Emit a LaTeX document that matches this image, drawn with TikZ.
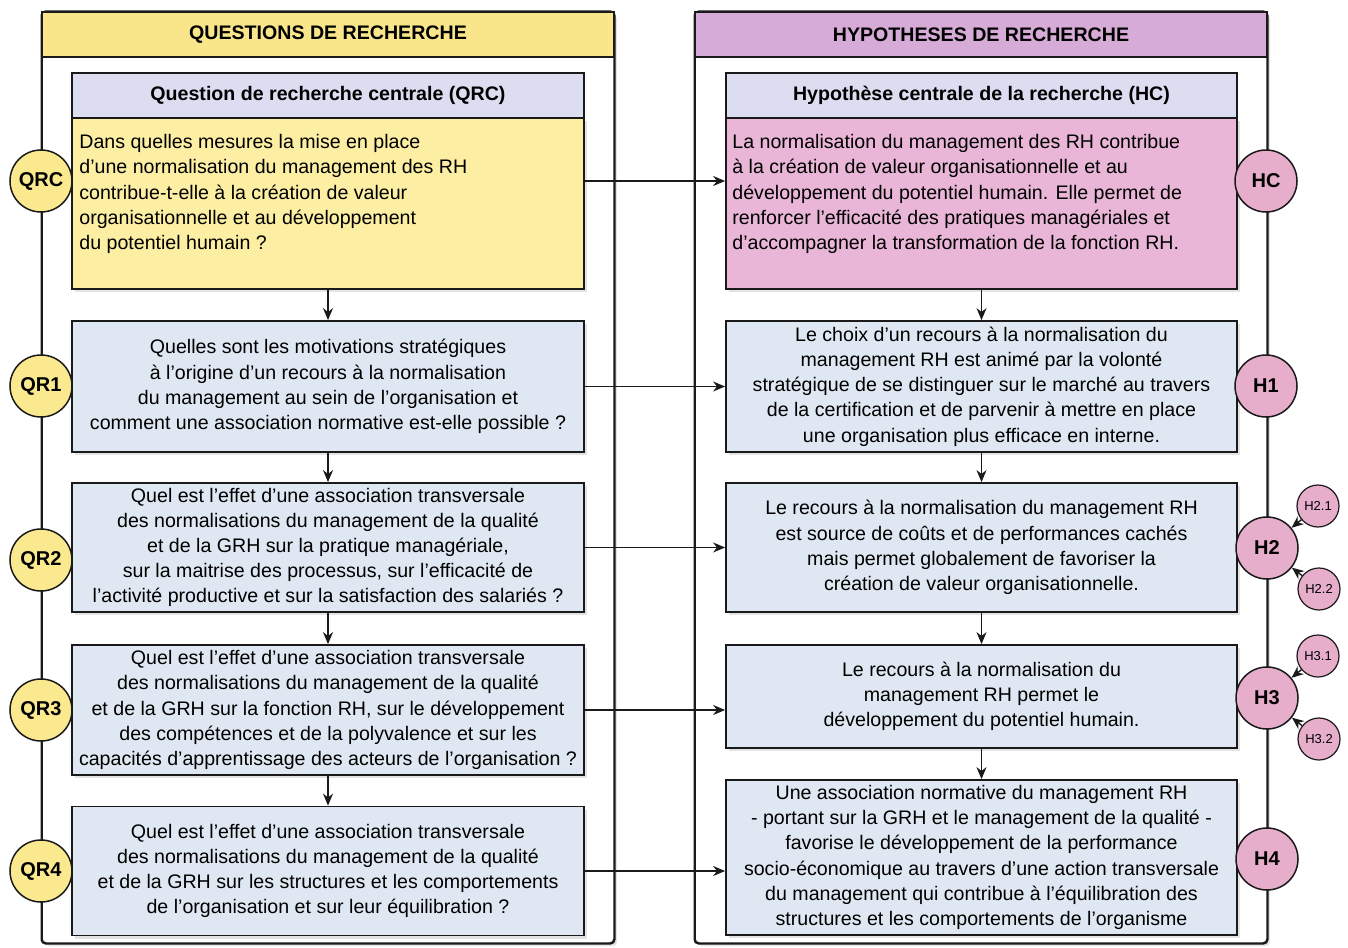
\documentclass[tikz,border=0pt]{standalone}
\usepackage{fontspec}
\setmainfont{Liberation Sans}
\usetikzlibrary{arrows.meta,calc,shadows}
\definecolor{hdrY}{HTML}{F9E68A}
\definecolor{hdrP}{HTML}{D7ABD8}
\definecolor{lav}{HTML}{DDDDF1}
\definecolor{bodyY}{HTML}{FCEFA3}
\definecolor{bodyP}{HTML}{E9B6D7}
\definecolor{boxB}{HTML}{DFE8F2}
\definecolor{circY}{HTML}{FAE98F}
\definecolor{circP}{HTML}{E6AECB}
\definecolor{lineC}{HTML}{1A1A1A}
\begin{document}
\begin{tikzpicture}[x=0.5pt,y=-0.5pt,
  font=\fontsize{9.8pt}{12.6pt}\selectfont,
  shd/.style={drop shadow={opacity=0.22,shadow xshift=1.5pt,shadow yshift=-1.5pt}},
  panel/.style={draw=lineC, line width=0.75pt, rounded corners=2pt, fill=white, shd, minimum width=286pt, minimum height=465.5pt, inner sep=0pt},
  phead/.style={draw=lineC, line width=0.75pt, minimum width=286pt, minimum height=22.5pt, inner sep=0pt, font=\fontsize{9.8pt}{12pt}\selectfont\bfseries},
  bhead/.style={draw=lineC, line width=0.9pt, fill=lav, minimum height=22.5pt, inner sep=0pt, font=\fontsize{9.8pt}{12pt}\selectfont\bfseries},
  box/.style={draw=lineC, line width=0.9pt, rectangle, inner sep=0pt, shd, align=center},
  circ/.style={circle, draw=lineC, line width=0.75pt, minimum size=31pt, inner sep=0pt, font=\fontsize{10pt}{12pt}\selectfont\bfseries},
  scirc/.style={circle, draw=lineC, line width=0.6pt, fill=circP, minimum size=21pt, inner sep=0pt, font=\fontsize{6.5pt}{7pt}\selectfont},
  arr/.style={draw=lineC, line width=0.7pt, -{Stealth[length=6pt,width=5pt]}},
]
\useasboundingbox (0,0) rectangle (1348,947);
% panels
\node[panel] (lp) at (328,477.5) {};
\node[panel] (rp) at (981,477.5) {};
\node[phead, fill=hdrY] (lph) at (328,34.5) {QUESTIONS DE RECHERCHE};
\node[phead, fill=hdrP] (rph) at (981,34.5) {HYPOTHESES DE RECHERCHE};
\draw[lineC, line width=0.75pt, rounded corners=2pt] (lp.north west) rectangle (lp.south east);
\draw[lineC, line width=0.75pt, rounded corners=2pt] (rp.north west) rectangle (rp.south east);

% central boxes
\node[box, fill=bodyY, minimum width=256pt, minimum height=85.5pt] (qrc) at (328,203.5) {};
\node[bhead, minimum width=256pt] (qrch) at (328,95.5) {Question de recherche centrale (QRC)};
\node[anchor=north west, align=left, inner sep=0pt] (qrct) at (79,134)
 {Dans quelles mesures la mise en place\\
  d’une normalisation du management des RH\\
  contribue-t-elle à la création de valeur\\
  organisationnelle et au développement\\
  du potentiel humain ?};

\node[box, fill=bodyP, minimum width=255.5pt, minimum height=85.5pt] (hc) at (981.5,203.5) {};
\node[bhead, minimum width=255.5pt] (hch) at (981.5,95.5) {Hypothèse centrale de la recherche (HC)};
\node[anchor=north west, align=left, inner sep=0pt] (hct) at (732,134)
 {La normalisation du management des RH contribue\\
  à la création de valeur organisationnelle et au\\
  développement du potentiel humain. Elle permet de\\
  renforcer l’efficacité des pratiques managériales et\\
  d’accompagner la transformation de la fonction RH.};

% question boxes
\node[box, fill=boxB, minimum width=256pt, minimum height=65.5pt] (qr1) at (328,386.5)
 {Quelles sont les motivations stratégiques\\
  à l’origine d’un recours à la normalisation\\
  du management au sein de l’organisation et\\
  comment une association normative est-elle possible ?};
\node[box, fill=boxB, minimum width=256pt, minimum height=64.5pt] (qr2) at (328,547.5)
 {Quel est l’effet d’une association transversale\\
  des normalisations du management de la qualité\\
  et de la GRH sur la pratique managériale,\\
  sur la maitrise des processus, sur l’efficacité de\\
  l’activité productive et sur la satisfaction des salariés ?};
\node[box, fill=boxB, minimum width=256pt, minimum height=65pt] (qr3) at (328,710)
 {Quel est l’effet d’une association transversale\\
  des normalisations du management de la qualité\\
  et de la GRH sur la fonction RH, sur le développement\\
  des compétences et de la polyvalence et sur les\\
  capacités d’apprentissage des acteurs de l’organisation ?};
\node[box, fill=boxB, minimum width=256pt, minimum height=64.5pt] (qr4) at (328,871)
 {Quel est l’effet d’une association transversale\\
  des normalisations du management de la qualité\\
  et de la GRH sur les structures et les comportements\\
  de l’organisation et sur leur équilibration ?};

% hypothesis boxes
\node[box, fill=boxB, minimum width=255.5pt, minimum height=65.5pt] (h1) at (981.5,386.5)
 {Le choix d’un recours à la normalisation du\\
  management RH est animé par la volonté\\
  stratégique de se distinguer sur le marché au travers\\
  de la certification et de parvenir à mettre en place\\
  une organisation plus efficace en interne.};
\node[box, fill=boxB, minimum width=255.5pt, minimum height=64.5pt] (h2) at (981.5,547.5)
 {Le recours à la normalisation du management RH\\
  est source de coûts et de performances cachés\\
  mais permet globalement de favoriser la\\
  création de valeur organisationnelle.};
\node[box, fill=boxB, minimum width=255.5pt, minimum height=51.5pt] (h3) at (981.5,696.5)
 {Le recours à la normalisation du\\
  management RH permet le\\
  développement du potentiel humain.};
\node[box, fill=boxB, minimum width=255.5pt, minimum height=77.5pt] (h4) at (981.5,857.5)
 {Une association normative du management RH\\
  - portant sur la GRH et le management de la qualité -\\
  favorise le développement de la performance\\
  socio-économique au travers d’une action transversale\\
  du management qui contribue à l’équilibration des\\
  structures et les comportements de l’organisme};

% circles
\node[circ, fill=circY] (cqrc) at (41,181) {QRC};
\node[circ, fill=circY] (cqr1) at (41,386) {QR1};
\node[circ, fill=circY] (cqr2) at (41,560) {QR2};
\node[circ, fill=circY] (cqr3) at (41,710) {QR3};
\node[circ, fill=circY] (cqr4) at (41,871) {QR4};
\node[circ, fill=circP] (chc) at (1266,181) {HC};
\node[circ, fill=circP] (ch1) at (1266,386) {H1};
\node[circ, fill=circP] (ch2) at (1267,548) {H2};
\node[circ, fill=circP] (ch3) at (1267,698) {H3};
\node[circ, fill=circP] (ch4) at (1267,859) {H4};
\node[scirc] (ch21) at (1318,506) {H2.1};
\node[scirc] (ch22) at (1319,589) {H2.2};
\node[scirc] (ch31) at (1318,656) {H3.1};
\node[scirc] (ch32) at (1319,739) {H3.2};

% connectors
\draw[arr] (qrc.south) -- (qr1.north);
\draw[arr] (qr1.south) -- (qr2.north);
\draw[arr] (qr2.south) -- (qr3.north);
\draw[arr] (qr3.south) -- (qr4.north);
\draw[arr] (hc.south) -- (h1.north);
\draw[arr] (h1.south) -- (h2.north);
\draw[arr] (h2.south) -- (h3.north);
\draw[arr] (h3.south) -- (h4.north);
\draw[arr] (qrc.east |- cqrc) -- (hc.west |- cqrc);
\draw[arr] (qr1.east) -- (qr1.east -| h1.west);
\draw[arr] (qr2.east) -- (qr2.east -| h2.west);
\draw[arr] (qr3.east) -- (qr3.east -| h3.west);
\draw[arr] (qr4.east) -- (qr4.east -| h4.west);
\draw[arr] (ch21) -- (ch2);
\draw[arr] (ch22) -- (ch2);
\draw[arr] (ch31) -- (ch3);
\draw[arr] (ch32) -- (ch3);
\end{tikzpicture}
\end{document}
